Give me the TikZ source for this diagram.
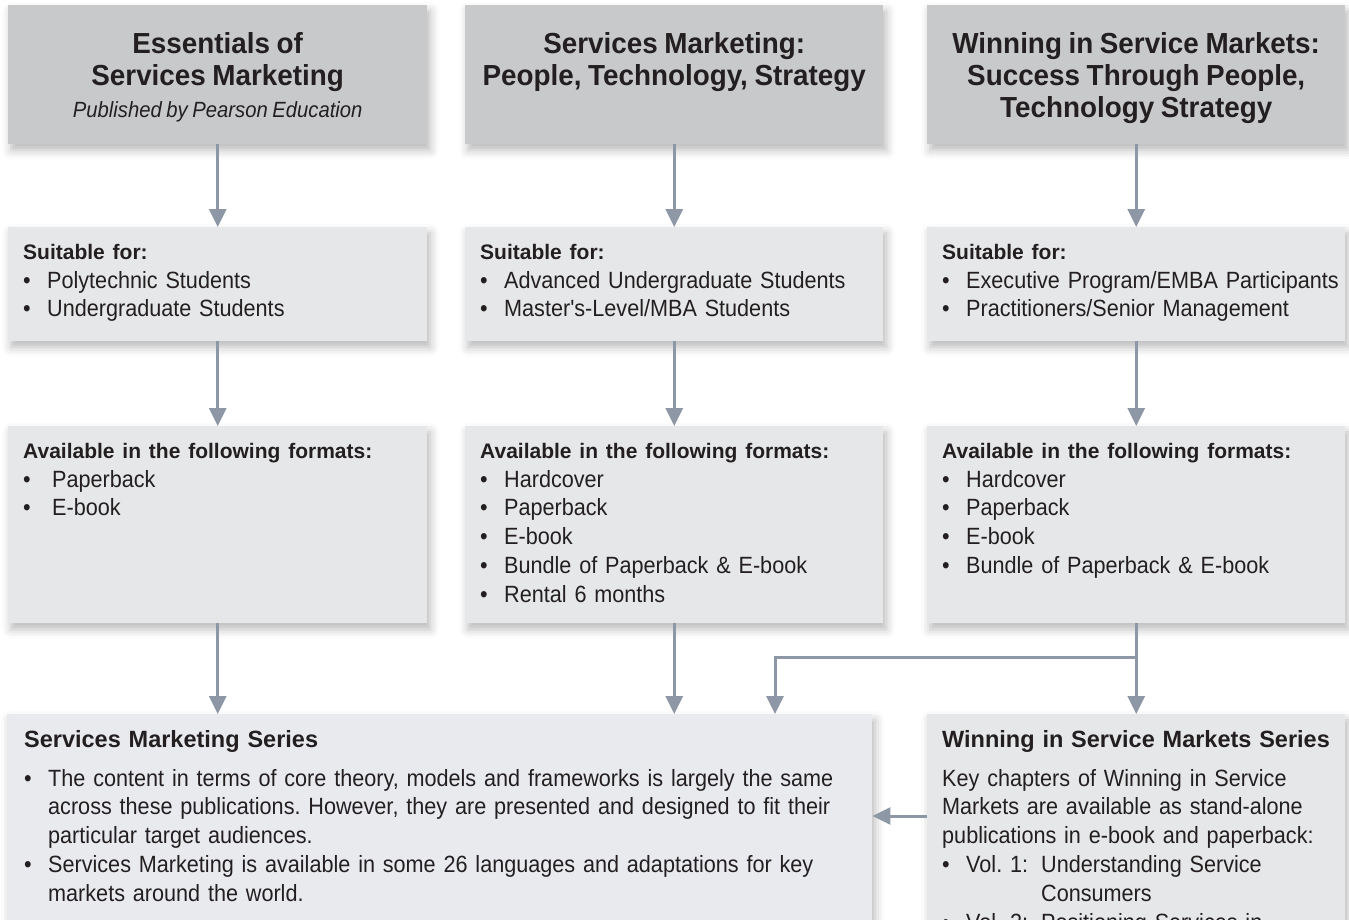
\documentclass[tikz,border=0pt]{standalone}
\usepackage{fontspec}
\setmainfont{Liberation Sans}[WordSpace=0.85]
\newfontfamily\bodyfont{Liberation Sans}[FakeStretch=0.92,WordSpace=0.82]
\newfontfamily\titlefont{Liberation Sans}[FakeStretch=0.96,WordSpace=0.85]
\usetikzlibrary{arrows.meta,shadows.blur}
\definecolor{topgray}{RGB}{200,201,203}
\definecolor{boxgray}{RGB}{230,231,232}
\definecolor{seriesgray}{RGB}{233,234,238}
\definecolor{flowgray}{RGB}{142,151,165}
\definecolor{ink}{RGB}{35,31,32}
\frenchspacing
\newcommand{\firstline}{\rule{0pt}{24pt}}
\newcommand{\bul}[2][24pt]{\makebox[#1][l]{\textbullet}#2}
\newcommand{\boxhead}[1]{{\normalfont\bfseries\fontsize{21}{28.8}\selectfont #1}}

\begin{document}
\begin{tikzpicture}[x=1pt,y=-1pt,
    flow/.style={draw=flowgray, line width=3pt, -{Triangle[length=18pt,width=17pt]}},
    boxshadow/.style={blur shadow={shadow xshift=3pt, shadow yshift=-6pt, shadow blur radius=9pt, shadow opacity=28}},
    titlebox/.style={anchor=north west, inner sep=0pt, fill=topgray, boxshadow},
    infobox/.style={anchor=north west, inner sep=0pt, fill=boxgray, boxshadow},
    ttl/.style={anchor=north, inner sep=0pt, align=center, text=ink, font=\titlefont\bfseries\fontsize{29}{32}\selectfont},
    txt/.style={anchor=north west, inner sep=0pt, align=left, text=ink, text width=400pt, font=\bodyfont\fontsize{23.5}{28.8}\selectfont}]
    \clip (0,0) rectangle (1349,919);
    % boxes, row by row
    \node[titlebox, minimum width=419pt, minimum height=139pt] (t1) at (8,5) {};
    \node[titlebox, minimum width=418pt, minimum height=139pt] (t2) at (465,5) {};
    \node[titlebox, minimum width=418pt, minimum height=139pt] (t3) at (927,5) {};
    \node[infobox, minimum width=419pt, minimum height=114pt] (s1) at (8,227) {};
    \node[infobox, minimum width=418pt, minimum height=114pt] (s2) at (465,227) {};
    \node[infobox, minimum width=418pt, minimum height=114pt] (s3) at (927,227) {};
    \node[infobox, minimum width=419pt, minimum height=197pt] (f1) at (8,426) {};
    \node[infobox, minimum width=418pt, minimum height=197pt] (f2) at (465,426) {};
    \node[infobox, minimum width=418pt, minimum height=197pt] (f3) at (927,426) {};
    \node[infobox, fill=seriesgray, minimum width=865pt, minimum height=260pt] (b1) at (7,714) {};
    \node[infobox, minimum width=418pt, minimum height=260pt] (b2) at (927,714) {};

    % connectors
    \draw[flow] (t1) -- (s1);
    \draw[flow] (t2) -- (s2);
    \draw[flow] (t3) -- (s3);
    \draw[flow] (s1) -- (f1);
    \draw[flow] (s2) -- (f2);
    \draw[flow] (s3) -- (f3);
    \draw[flow] (f1.south) -- (f1.south |- b1.north);
    \draw[flow] (f2.south) -- (f2.south |- b1.north);
    \draw[flow] (f3.south) -- (f3.south |- b2.north);
    \coordinate (split) at (f3.south |- 0,657);
    \coordinate (merge) at (775,0);
    \draw[flow] (split) -| (merge |- b1.north);
    \coordinate (side) at (0,816);
    \draw[flow] (b2.west |- side) -- (b1.east |- side);

    % titles
    \node[ttl] (t1txt) at (t1.north |- 0,29) {\firstline Essentials of\\ Services Marketing\\
        {\bodyfont\mdseries\itshape\fontsize{22}{32}\selectfont Published by Pearson Education}};
    \node[ttl] (t2txt) at (t2.north |- 0,29) {\firstline Services Marketing:\\ People, Technology, Strategy};
    \node[ttl] (t3txt) at (t3.north |- 0,29) {\firstline Winning in Service Markets:\\ Success Through People,\\ Technology Strategy};

    % audiences
    \node[txt] (s1txt) at (23,235) {\firstline\boxhead{Suitable for:}\\ \bul{Polytechnic Students}\\ \bul{Undergraduate Students}};
    \node[txt] (s2txt) at (480,235) {\firstline\boxhead{Suitable for:}\\ \bul{Advanced Undergraduate Students}\\ \bul{Master's-Level/MBA Students}};
    \node[txt] (s3txt) at (942,235) {\firstline\boxhead{Suitable for:}\\ \bul{Executive Program/EMBA Participants}\\ \bul{Practitioners/Senior Management}};

    % formats
    \node[txt] (f1txt) at (23,434) {\firstline\boxhead{Available in the following formats:}\\ \bul[29pt]{Paperback}\\ \bul[29pt]{E-book}};
    \node[txt] (f2txt) at (480,434) {\firstline\boxhead{Available in the following formats:}\\ \bul{Hardcover}\\ \bul{Paperback}\\ \bul{E-book}\\
        \bul{Bundle of Paperback \& E-book}\\ \bul{Rental 6 months}};
    \node[txt] (f3txt) at (942,434) {\firstline\boxhead{Available in the following formats:}\\ \bul{Hardcover}\\ \bul{Paperback}\\ \bul{E-book}\\
        \bul{Bundle of Paperback \& E-book}};

    % series
    \node[txt, text width=840pt] (b1txt) at (24,723) {\firstline{\normalfont\bfseries Services Marketing Series}\\[10pt]
        \bul{The content in terms of core theory, models and frameworks is largely the same}\\
        \hspace*{24pt}across these publications. However, they are presented and designed to fit their\\
        \hspace*{24pt}particular target audiences.\\
        \bul{Services Marketing is available in some 26 languages and adaptations for key}\\
        \hspace*{24pt}markets around the world.};
    \node[txt] (b2txt) at (942,723) {\firstline{\normalfont\bfseries Winning in Service Markets Series}\\[10pt]
        Key chapters of Winning in Service\\ Markets are available as stand-alone\\ publications in e-book and paperback:\\
        \bul{\makebox[75pt][l]{Vol. 1:}Understanding Service}\\ \hspace*{99pt}Consumers\\
        \bul{\makebox[75pt][l]{Vol. 2:}Positioning Services in}};
\end{tikzpicture}
\end{document}
